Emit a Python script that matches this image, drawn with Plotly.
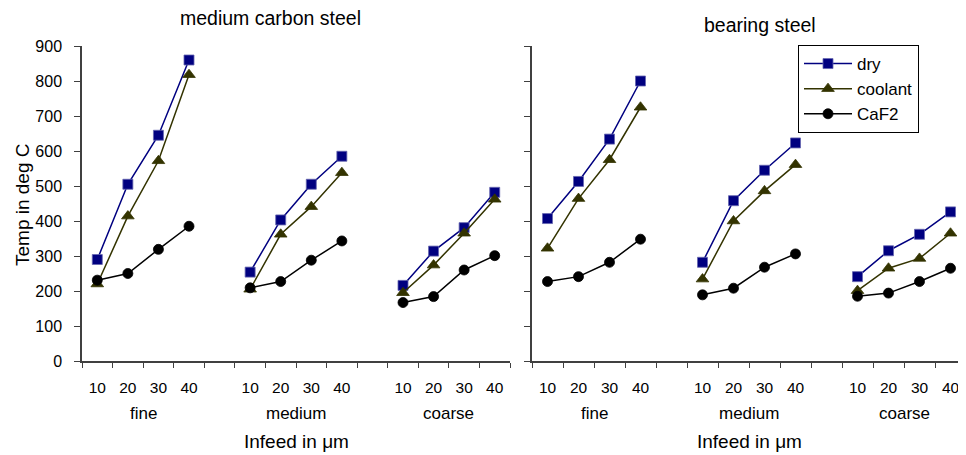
import plotly.graph_objects as go

groups = ["fine", "medium", "coarse"]
infeed = ["10", "20", "30", "40"]
series = ["dry", "coolant", "CaF2"]

# medium carbon steel (fine, medium, coarse x 10,20,30,40)
mcs_dry = [290, 505, 645, 860, 254, 403, 505, 585, 216, 314, 381, 482]
mcs_coolant = [220, 414, 572, 818, 205, 362, 441, 538, 195, 274, 365, 462]
mcs_caf2 = [231, 250, 319, 385, 209, 227, 288, 343, 167, 184, 260, 301]

# bearing steel
bs_dry = [407, 513, 634, 800, 282, 458, 545, 623, 241, 315, 362, 426]
bs_coolant = [322, 464, 575, 725, 234, 400, 486, 561, 201, 265, 293, 365]
bs_caf2 = [227, 241, 282, 348, 189, 208, 268, 306, 185, 194, 227, 265]

colors = {"dry": "#000080", "coolant": "#333300", "CaF2": "#000000"}
symbols = {"dry": "square", "coolant": "triangle-up", "CaF2": "circle"}
msize = {"dry": 10, "coolant": 11, "CaF2": 10}
FONT = "Liberation Sans, Arial, sans-serif"

ngrp = len(groups)
nin = len(infeed)
step = nin + 1


def xy(vals):
    xs, ys = [], []
    for g in range(ngrp):
        for i in range(nin):
            xs.append(g * step + i + 0.5)
            ys.append(vals[g * nin + i])
        if g < ngrp - 1:
            xs.append(g * step + nin + 0.5)
            ys.append(None)
    return xs, ys


fig = go.Figure()
panels = [("x", "y", [mcs_dry, mcs_coolant, mcs_caf2], True),
          ("x2", "y2", [bs_dry, bs_coolant, bs_caf2], False)]
for xa, ya, data, show in panels:
    for name, vals in zip(series, data):
        xs, ys = xy(vals)
        fig.add_trace(go.Scatter(
            x=xs, y=ys, name=name, mode="lines+markers", xaxis=xa, yaxis=ya,
            showlegend=show,
            line=dict(color=colors[name], width=1.5),
            marker=dict(symbol=symbols[name], size=msize[name], color=colors[name],
                        line=dict(color="#6666b0" if name == "dry" else colors[name], width=0.8)),
        ))

xmax = ngrp * step - 1
tickvals = [g * step + i + 0.5 for g in range(ngrp) for i in range(nin)]
ticktext = [infeed[i] for g in range(ngrp) for i in range(nin)]

axcol = "#404040"
xcommon = dict(range=[0, xmax], tickvals=tickvals, ticktext=ticktext, ticks="",
               ticklen=0, showgrid=False, zeroline=False, showline=True,
               linecolor=axcol, linewidth=1.5, ticklabelstandoff=12,
               tickfont=dict(family=FONT, size=15.5, color="black"),
               minor=dict(tick0=0, dtick=1, ticks="outside", ticklen=5,
                          tickcolor=axcol, tickwidth=1, showgrid=False))
ycommon = dict(range=[0, 900], dtick=100, ticks="outside", ticklen=6, tickcolor=axcol,
               showgrid=False, zeroline=False, showline=True, linecolor=axcol,
               linewidth=1.5, ticklabelstandoff=9,
               tickfont=dict(family=FONT, size=16, color="black"))

# page has an 8px body margin: figure origin sits at (8, 8) in the window
OFF = 8
W, H = 966 - OFF, 455 - OFF
ml, mr = 82 - OFF, 0
mt = 46 - OFF
mb = H - (361 - OFF)
pw = W - ml - mr
ph = H - mt - mb


def px(X):
    return (X - OFF - ml) / pw


def py(Y):
    return (H - mb - (Y - OFF)) / ph


fig.update_layout(
    width=W, height=H, margin=dict(l=ml, r=mr, t=mt, b=mb),
    paper_bgcolor="white", plot_bgcolor="white",
    font=dict(family=FONT, color="black"),
    xaxis=dict(domain=[0, px(510)], anchor="y", **xcommon),
    xaxis2=dict(domain=[px(532), 1], anchor="y2", **xcommon),
    yaxis=dict(anchor="x", showticklabels=True, **ycommon),
    yaxis2=dict(anchor="x2", showticklabels=False, **ycommon),
    legend=dict(x=px(798), y=py(45), xanchor="left", yanchor="top",
                bordercolor="black", borderwidth=1, bgcolor="white",
                font=dict(family=FONT, size=17), tracegroupgap=0,
                itemwidth=48),
)

ann = []
for xref, title, tx, ty in [("x", "medium carbon steel", 270, 18),
                             ("x2", "bearing steel", 760, 25)]:
    ann.append(dict(xref="paper", yref="paper", x=px(tx), y=py(ty),
                    text=title, showarrow=False, xanchor="center", yanchor="middle",
                    font=dict(family=FONT, size=19.5)))
    for g, gname in enumerate(groups):
        ann.append(dict(xref=xref, yref="paper", x=g * step + nin / 2, y=py(413),
                        text=gname, showarrow=False, xanchor="center", yanchor="middle",
                        font=dict(family=FONT, size=17)))
    ann.append(dict(xref=xref, yref="paper", x=xmax / 2, y=py(441),
                    text="Infeed in μm", showarrow=False, xanchor="center", yanchor="middle",
                    font=dict(family=FONT, size=19)))
ann.append(dict(xref="paper", yref="paper", x=px(22), y=py(205), textangle=-90,
                text="Temp in deg C", showarrow=False, xanchor="center", yanchor="middle",
                font=dict(family=FONT, size=19)))
fig.update_layout(annotations=ann)

fig.write_html("out.html")
